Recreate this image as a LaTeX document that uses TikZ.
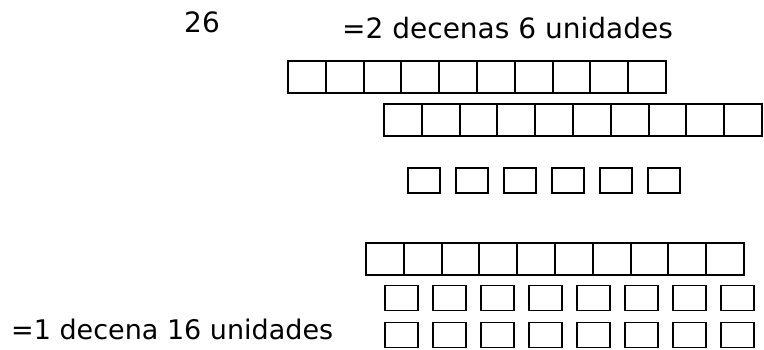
\documentclass[tikz,border=0pt]{standalone}
\usepackage{fontspec}
\setmainfont{DejaVu Sans}
\usepackage{tikz}

\begin{document}
\begin{tikzpicture}[x=1pt,y=-1pt,
    cell/.style={draw,line width=2pt,minimum width=37.8pt,minimum height=32pt,inner sep=0pt,outer sep=0pt},
    unit/.style={draw,line width=1.8pt,minimum width=33pt,minimum height=25pt,inner sep=0pt,outer sep=0pt},
    txt/.style={font=\fontsize{28}{34}\selectfont,inner sep=0pt,anchor=base west}]
                \useasboundingbox (0,0) rectangle (764,349);
                \node[txt] (num) at (184,32) {26};
                \node[txt] (top) at (342,38) {=2 decenas 6 unidades};
                \node[txt,font=\fontsize{27}{32}\selectfont] (bot) at (11,339) {=1 decena 16 unidades};
                \foreach \i in {0,...,9} {
                    \node[cell] (ta\i) at (288+18.9+37.8*\i,77) {};
                    \node[cell] (tb\i) at (384+18.9+37.8*\i,120) {};
                    \node[cell] (tc\i) at (366+18.9+37.8*\i,259) {};
                }
                \foreach \i in {0,...,5}
                    \node[unit,minimum width=32pt] (ua\i) at (424+48*\i,180.5) {};
                \foreach \i in {0,...,7} {
                    \node[unit] (ub\i) at (401.5+48*\i,298) {};
                    \node[unit] (uc\i) at (401.5+48*\i,335) {};
                }
            \end{tikzpicture}
\end{document}
